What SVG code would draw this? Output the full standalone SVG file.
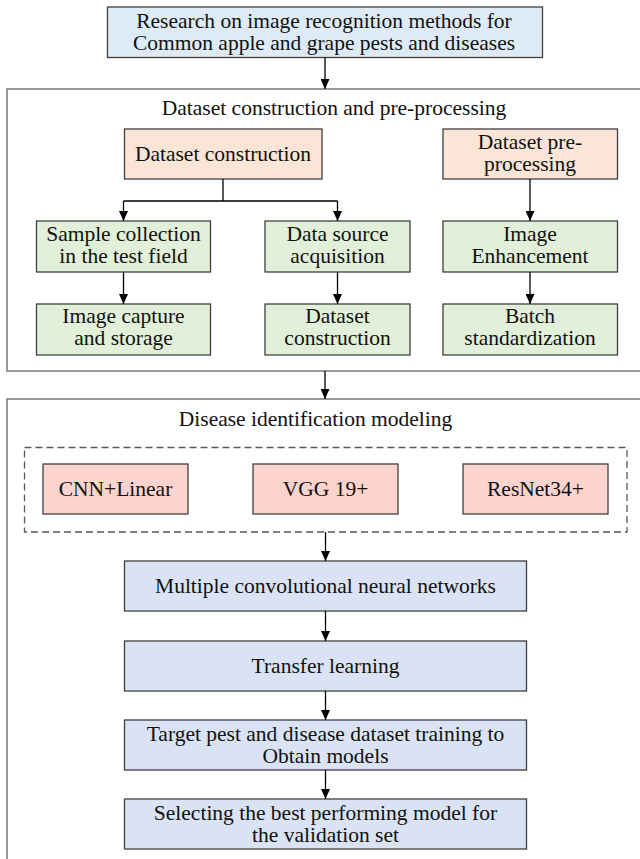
<svg xmlns="http://www.w3.org/2000/svg" width="640" height="859" viewBox="0 0 640 859" font-family="'Liberation Serif', Tinos, 'Times New Roman', 'DejaVu Serif', serif">
<style>
text{font-family:'Liberation Serif', Tinos, 'Times New Roman', 'DejaVu Serif', serif;font-size:21.5px;fill:#111;text-anchor:middle}
.box{stroke:#3f3f3f;stroke-width:1.3}
.blue{fill:#deebf7}
.orange{fill:#fbe5d6}
.green{fill:#e2f0d9}
.red{fill:#fdd3ce}
.lav{fill:#dae3f3}
.outer{fill:none;stroke:#7f7f7f;stroke-width:1.6}
.dash{fill:none;stroke:#595959;stroke-width:1.3;stroke-dasharray:7 4}
.c{fill:none;stroke:#000;stroke-width:1.3}
</style>
<defs>
<marker id="ah" markerUnits="userSpaceOnUse" markerWidth="10" markerHeight="9" refX="10" refY="4.5" orient="auto">
<path d="M0,0 L10,4.5 L0,9 z" fill="#000"/>
</marker>
</defs>
<g id="frame-dataset"><rect class="outer" x="7" y="89" width="660" height="282"/><text x="334" y="115">Dataset construction and pre-processing</text></g>
<g id="frame-model"><rect class="outer" x="7" y="399" width="660" height="480"/><text x="315.5" y="426">Disease identification modeling</text></g>
<g id="group-cnn"><rect class="dash" x="24.5" y="447.5" width="602.5" height="84.5"/></g>

<g id="n-top"><rect class="box blue" x="107.5" y="7" width="435" height="50.5"/><text x="324" y="27.5">Research on image recognition methods for</text><text x="324" y="49.5">Common apple and grape pests and diseases</text></g>

<g id="n-dc"><rect class="box orange" x="124.5" y="129" width="197.5" height="50"/><text x="223" y="161">Dataset construction</text></g>
<g id="n-dp"><rect class="box orange" x="443" y="129" width="174.5" height="50"/><text x="530" y="149">Dataset pre-</text><text x="530" y="171">processing</text></g>

<g id="n-sample"><rect class="box green" x="36.5" y="221" width="174" height="51"/><text x="123.5" y="241">Sample collection</text><text x="123.5" y="263">in the test field</text></g>
<g id="n-source"><rect class="box green" x="265" y="221" width="145" height="51"/><text x="337.5" y="241">Data source</text><text x="337.5" y="263">acquisition</text></g>
<g id="n-enh"><rect class="box green" x="443" y="221" width="174.5" height="51"/><text x="530" y="241">Image</text><text x="530" y="263">Enhancement</text></g>

<g id="n-capture"><rect class="box green" x="36.5" y="304" width="174" height="51"/><text x="123.5" y="323">Image capture</text><text x="123.5" y="345">and storage</text></g>
<g id="n-dsc"><rect class="box green" x="265" y="304" width="145" height="51"/><text x="337.5" y="323">Dataset</text><text x="337.5" y="345">construction</text></g>
<g id="n-batch"><rect class="box green" x="443" y="304" width="174.5" height="51"/><text x="530" y="323">Batch</text><text x="530" y="345">standardization</text></g>

<g id="n-cnn"><rect class="box red" x="43" y="464" width="145" height="50"/><text x="115.5" y="496">CNN+Linear</text></g>
<g id="n-vgg"><rect class="box red" x="253" y="464" width="145" height="50"/><text x="325.5" y="496">VGG 19+</text></g>
<g id="n-res"><rect class="box red" x="463" y="464" width="145" height="50"/><text x="535.5" y="496">ResNet34+</text></g>

<g id="n-multi"><rect class="box lav" x="124.5" y="561" width="402" height="50"/><text x="325.5" y="593">Multiple convolutional neural networks</text></g>
<g id="n-transfer"><rect class="box lav" x="124.5" y="641" width="402" height="50"/><text x="325.5" y="673">Transfer learning</text></g>
<g id="n-target"><rect class="box lav" x="124.5" y="720" width="402" height="50"/><text x="325.5" y="741">Target pest and disease dataset training to</text><text x="325.5" y="763">Obtain models</text></g>
<g id="n-select"><rect class="box lav" x="124.5" y="799" width="402" height="50"/><text x="325.5" y="820">Selecting the best performing model for</text><text x="325.5" y="842">the validation set</text></g>

<g id="connectors">
<path class="c" d="M325,57.5 V89" marker-end="url(#ah)"/>
<path class="c" d="M223,179 V201"/>
<path class="c" d="M123.5,201 H337.5"/>
<path class="c" d="M123.5,201 V221" marker-end="url(#ah)"/>
<path class="c" d="M337.5,201 V221" marker-end="url(#ah)"/>
<path class="c" d="M530,179 V221" marker-end="url(#ah)"/>
<path class="c" d="M123.5,272 V304" marker-end="url(#ah)"/>
<path class="c" d="M337.5,272 V304" marker-end="url(#ah)"/>
<path class="c" d="M530,272 V304" marker-end="url(#ah)"/>
<path class="c" d="M325,371 V399" marker-end="url(#ah)"/>
<path class="c" d="M325.5,532 V561" marker-end="url(#ah)"/>
<path class="c" d="M325.5,611 V641" marker-end="url(#ah)"/>
<path class="c" d="M325.5,691 V720" marker-end="url(#ah)"/>
<path class="c" d="M325.5,770 V799" marker-end="url(#ah)"/>
</g>
</svg>
